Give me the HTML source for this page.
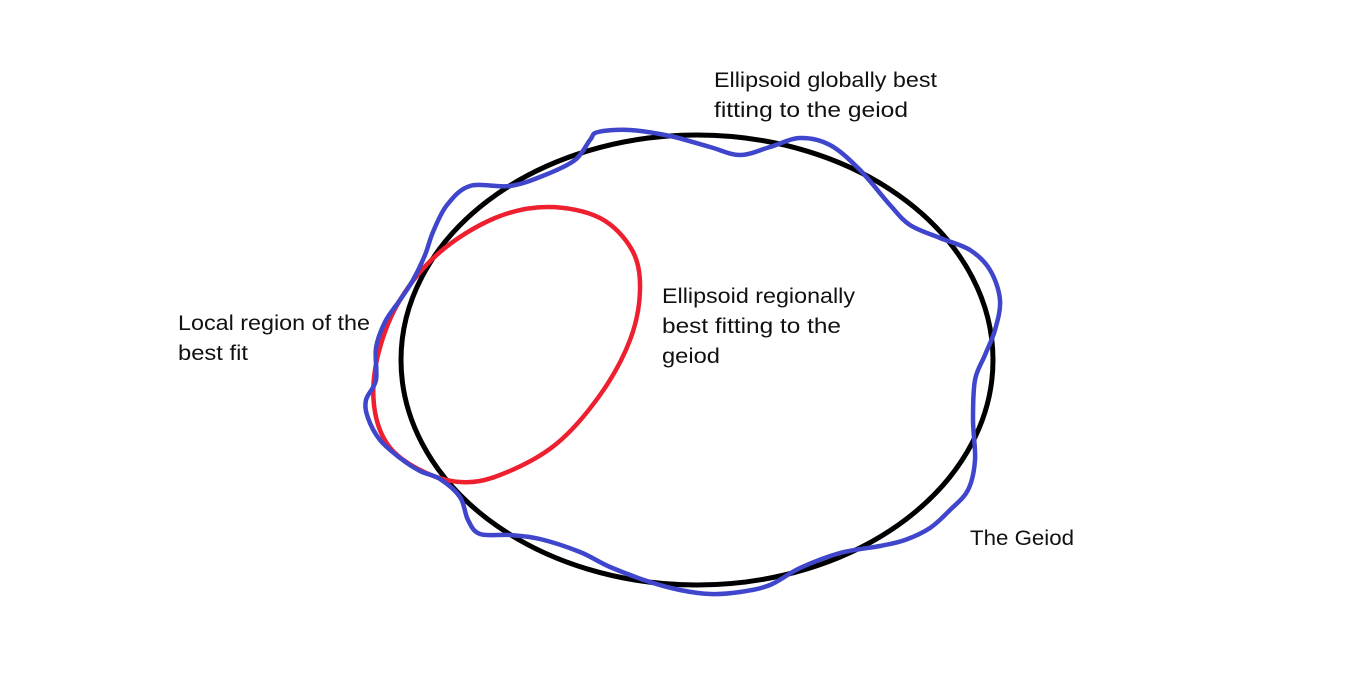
<!DOCTYPE html>
<html><head><meta charset="utf-8"><style>
html,body{margin:0;padding:0;background:#fff;}
svg text{font-family:"Liberation Sans",sans-serif;font-size:21px;fill:#111;}
</style></head><body>
<svg id="svg" width="1350" height="679" viewBox="0 0 1350 679">
<ellipse cx="697" cy="360" rx="296" ry="225" fill="none" stroke="#000" stroke-width="5"/>
<path id="red" fill="none" stroke="#ee2030" stroke-width="4.5"/>
<path id="blue" fill="none" stroke="#3f46cc" stroke-width="4.5"/>
<text><tspan x="714" y="87" textLength="223" lengthAdjust="spacingAndGlyphs">Ellipsoid globally best</tspan><tspan x="714" y="117" textLength="194" lengthAdjust="spacingAndGlyphs">fitting to the geiod</tspan></text>
<text><tspan x="662" y="303" textLength="193" lengthAdjust="spacingAndGlyphs">Ellipsoid regionally</tspan><tspan x="662" y="333" textLength="179" lengthAdjust="spacingAndGlyphs">best fitting to the</tspan><tspan x="662" y="363" textLength="58" lengthAdjust="spacingAndGlyphs">geiod</tspan></text>
<text><tspan x="178" y="330" textLength="192" lengthAdjust="spacingAndGlyphs">Local region of the</tspan><tspan x="178" y="360" textLength="70" lengthAdjust="spacingAndGlyphs">best fit</tspan></text>
<text x="970" y="545" textLength="104" lengthAdjust="spacingAndGlyphs">The Geiod</text>
</svg>
<script>
const bluePts=[[598,132],[630,130],[670,136],[710,147],[740,155],[770,147],[800,138],[830,145],[860,170],[890,205],[910,225],[940,238],[970,250],[990,270],[1000,300],[995,330],[985,355],[975,380],[973,420],[975,460],[968,490],[950,510],[930,528],[905,540],[880,546],[840,553],[800,568],[770,585],[740,592],[710,594],[680,590],[650,582],[610,567],[580,552],[540,539],[510,535],[480,534],[468,520],[460,497],[440,479],[420,471],[400,458],[380,440],[368,418],[366,400],[376,380],[376,348],[385,322],[400,300],[413,280],[425,255],[433,232],[447,205],[470,186],[510,186],[545,175],[575,160],[590,140]];
const redPts=[[548,207],[600,218],[632,250],[640,290],[630,340],[600,395],[555,445],[500,475],[460,482],[420,470],[388,445],[374,405],[378,355],[400,300],[440,252],[495,218]];
function smooth(p){const n=p.length;let d=`M${p[0][0]},${p[0][1]}`;for(let i=0;i<n;i++){const p0=p[(i-1+n)%n],p1=p[i],p2=p[(i+1)%n],p3=p[(i+2)%n];const c1=[p1[0]+(p2[0]-p0[0])/6,p1[1]+(p2[1]-p0[1])/6],c2=[p2[0]-(p3[0]-p1[0])/6,p2[1]-(p3[1]-p1[1])/6];d+=`C${c1[0]},${c1[1]} ${c2[0]},${c2[1]} ${p2[0]},${p2[1]}`;}return d+'Z';}
document.getElementById('blue').setAttribute('d',smooth(bluePts));
document.getElementById('red').setAttribute('d',smooth(redPts));
</script>
</body></html>
